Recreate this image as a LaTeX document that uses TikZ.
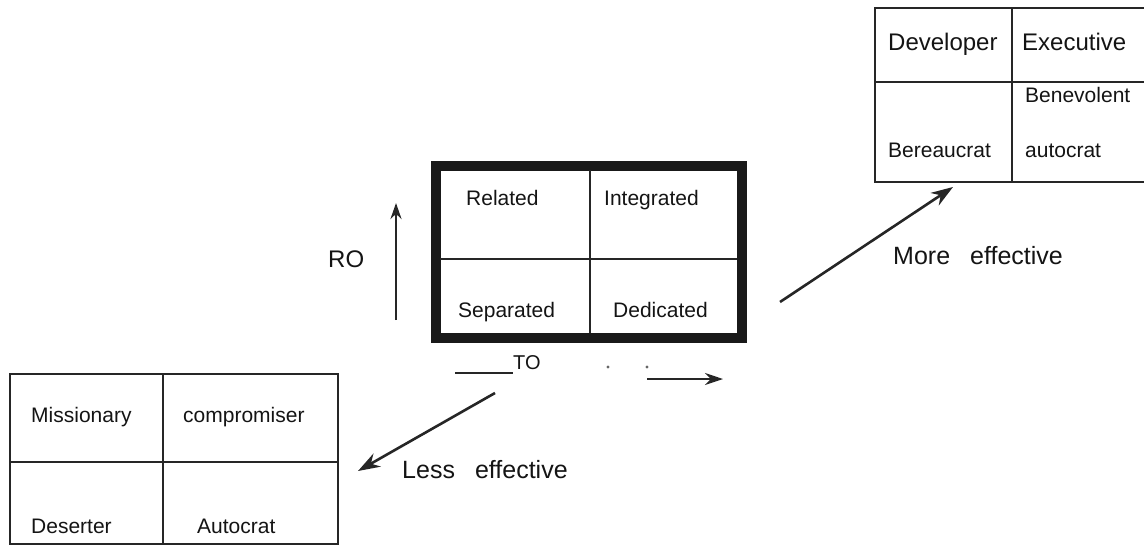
\documentclass[tikz,border=0pt]{standalone}
\usepackage{fontspec}
\setmainfont{Liberation Sans}
\usetikzlibrary{arrows.meta}
\begin{document}
\begin{tikzpicture}[x=1pt,y=-1pt,
  lbl/.style={anchor=base west,inner sep=0pt,text=black!92,font=\fontsize{21}{24}\selectfont},
  big/.style={lbl,font=\fontsize{24}{28}\selectfont},
  eff/.style={lbl,font=\fontsize{25}{30}\selectfont},
  grid/.style={line width=2.2pt,draw=black!85},
  thick box/.style={line width=10pt,draw=black!90},
  dotmark/.style={circle,fill=black!60,inner sep=1.2pt},
  arr/.style={line width=2.6pt,draw=black!85,-{Stealth[length=22pt,width=15pt]}}]
\useasboundingbox (0,0) rectangle (1144,547);
\clip (0,0) rectangle (1144,547);
% central box
\draw[thick box] (435.5,165.5) rectangle (742,338);
\draw[grid] (590,170) -- (590,333);
\draw[grid] (440,259) -- (737,259);
\node[lbl] (rel) at (466,205) {Related};
\node[lbl] (int) at (604,205) {Integrated};
\node[lbl] (sep) at (458,317) {Separated};
\node[lbl] (ded) at (613,317) {Dedicated};
% axes
\coordinate (roS) at (396,320);
\coordinate (roE) at (396,203);
\draw[line width=2.6pt,draw=black!85,-{Stealth[length=16pt,width=11pt]}] (roS) -- (roE);
\node[lbl,font=\fontsize{24}{28}\selectfont] (ro) at (328,267) {RO};
\node[lbl,font=\fontsize{20}{24}\selectfont] (to) at (513,369) {TO};
\coordinate (toL) at (455,373);
\draw[line width=2pt,draw=black!85] (toL) -- (toL -| to.base west);
\node[dotmark] (d1) at (608,367) {};
\node[dotmark] (d2) at (647,367) {};
\coordinate (toS) at (647,379);
\coordinate (toE) at (723,379);
\draw[line width=2.2pt,draw=black!85,-{Stealth[length=18pt,width=12pt]}] (toS) -- (toE);
% bottom-left box
\draw[grid] (10,374) rectangle (338,544);
\draw[grid] (163,374) -- (163,544);
\draw[grid] (10,462) -- (338,462);
\node[lbl] (mis) at (31,422) {Missionary};
\node[lbl] (com) at (183,422) {compromiser};
\node[lbl] (des) at (31,533) {Deserter};
\node[lbl] (aut) at (197,533) {Autocrat};
% top-right box
\draw[grid] (1150,8) -- (875,8) -- (875,182) -- (1150,182);
\draw[grid] (1012,8) -- (1012,182);
\draw[grid] (875,82) -- (1150,82);
\node[big] (dev) at (888,50) {Developer};
\node[big] (exe) at (1022,50) {Executive};
\node[lbl] (ben) at (1025,102) {Benevolent};
\node[lbl] (ber) at (888,157) {Bereaucrat};
\node[lbl] (aut2) at (1025,157) {autocrat};
% effectiveness arrows
\coordinate (mS) at (780,302);
\coordinate (mE) at (953,187);
\draw[arr] (mS) -- (mE);
\node[eff] (more) at (893,264) {More\hspace{20pt}effective};
\coordinate (lS) at (495,393);
\coordinate (lE) at (358,471);
\draw[arr] (lS) -- (lE);
\node[eff] (less) at (402,478) {Less\hspace{20pt}effective};
\end{tikzpicture}
\end{document}
